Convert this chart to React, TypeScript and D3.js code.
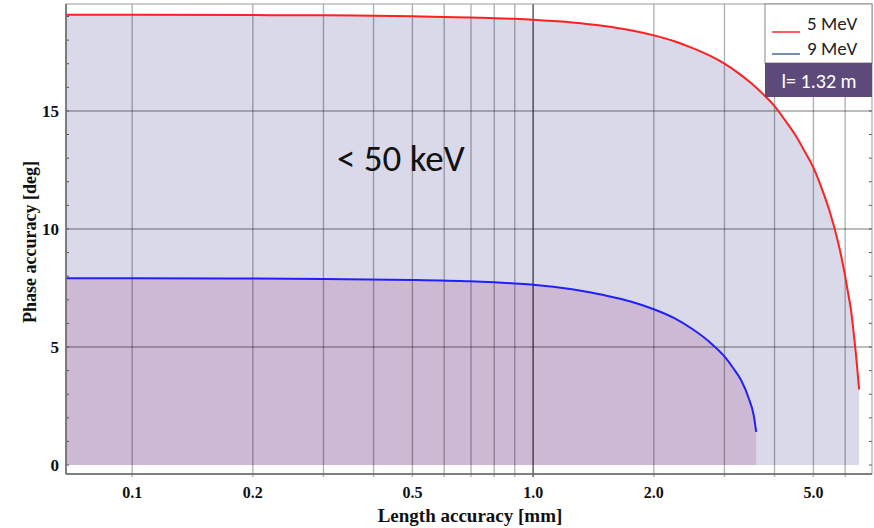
import React, { useEffect, useRef } from 'react';
import * as d3 from 'd3';

// values (x: length accuracy [mm], y: phase accuracy [deg])
const red5MeVx = [0.0684, 0.1, 0.2, 0.3, 0.4, 0.5, 0.6, 0.7, 0.8, 0.9, 1.0, 1.25, 1.5, 1.75, 2.0, 2.25, 2.5, 2.75, 3.0, 3.25, 3.5, 3.75, 4.0, 4.25, 4.5, 4.75, 5.0, 5.25, 5.5, 5.75, 6.0, 6.1, 6.2, 6.3, 6.4, 6.5];
const red5MeVy = [19.07, 19.07, 19.06, 19.05, 19.03, 19.01, 18.98, 18.96, 18.93, 18.9, 18.86, 18.75, 18.6, 18.42, 18.2, 17.95, 17.66, 17.35, 17.0, 16.6, 16.17, 15.7, 15.2, 14.6, 14.0, 13.3, 12.6, 11.7, 10.7, 9.5, 8.0, 7.3, 6.6, 5.6, 4.5, 3.2];
const blue9MeVx = [0.0684, 0.1, 0.2, 0.3, 0.5, 0.7, 0.8, 0.9, 1.0, 1.25, 1.5, 1.75, 2.0, 2.25, 2.5, 2.75, 3.0, 3.15, 3.3, 3.45, 3.55, 3.6];
const blue9MeVy = [7.91, 7.91, 7.9, 7.88, 7.84, 7.78, 7.74, 7.69, 7.64, 7.45, 7.2, 6.93, 6.6, 6.22, 5.75, 5.22, 4.6, 4.12, 3.6, 2.82, 2.1, 1.4];

const xGrid = [0.1, 0.2, 0.3, 0.4, 0.5, 0.6, 0.7, 0.8, 0.9, 1.0, 2, 3, 4, 5, 6];
const xLabels = [0.1, 0.2, 0.5, 1.0, 2.0, 5.0];
const yLabels = [0, 5, 10, 15];
const yMinor = d3.range(0, 20);

const legendItems = [
  { label: '5 MeV', color: '#ff2a2a' },
  { label: '9 MeV', color: '#4a6a96' },
];

const App: React.FC = () => {
  const svgRef = useRef<SVGSVGElement>(null);

  useEffect(() => {
    if (!svgRef.current) return;
    const svg = d3.select(svgRef.current);
    svg.selectAll('*').remove();

    const left = 66, right = 872, top = 4, bottom = 474;
    const x = d3.scaleLog().domain([0.0684, 7.0]).range([left, right]);
    const y = d3.scaleLinear().domain([-0.38, 19.53]).range([bottom, top]);

    const red = red5MeVx.map((v, i) => [v, red5MeVy[i]] as [number, number]);
    const blue = blue9MeVx.map((v, i) => [v, blue9MeVy[i]] as [number, number]);

    const area = d3.area<[number, number]>()
      .x(d => x(d[0]))
      .y0(y(0))
      .y1(d => y(d[1]))
      .curve(d3.curveMonotoneX);
    const line = d3.line<[number, number]>()
      .x(d => x(d[0]))
      .y(d => y(d[1]))
      .curve(d3.curveMonotoneX);

    svg.append('rect').attr('x', left).attr('y', top)
      .attr('width', right - left).attr('height', bottom - top).attr('fill', '#fff');

    // filled regions
    svg.append('path').datum(red).attr('d', area).attr('fill', '#d9d9ea');
    svg.append('path').datum(blue).attr('d', area).attr('fill', '#cdb9d4');

    // grid
    const grid = svg.append('g');
    xGrid.forEach(v => {
      grid.append('line')
        .attr('x1', x(v)).attr('x2', x(v)).attr('y1', top).attr('y2', bottom + 3)
        .attr('stroke', '#000')
        .attr('stroke-opacity', v === 1 ? 0.6 : 0.3)
        .attr('stroke-width', v === 1 ? 1.6 : 1.4);
    });
    yLabels.filter(v => v > 0).forEach(v => {
      grid.append('line')
        .attr('x1', left).attr('x2', right).attr('y1', y(v)).attr('y2', y(v))
        .attr('stroke', '#000').attr('stroke-opacity', 0.35).attr('stroke-width', 1.4);
    });

    // minor ticks on left and right
    yMinor.forEach(v => {
      svg.append('line').attr('x1', left).attr('x2', left + 3)
        .attr('y1', y(v)).attr('y2', y(v)).attr('stroke', '#555').attr('stroke-width', 1);
      svg.append('line').attr('x1', right - 3).attr('x2', right)
        .attr('y1', y(v)).attr('y2', y(v)).attr('stroke', '#555').attr('stroke-width', 1);
    });

    // curves
    svg.append('path').datum(red).attr('d', line)
      .attr('fill', 'none').attr('stroke', '#ff2020').attr('stroke-width', 2);
    svg.append('path').datum(blue).attr('d', line)
      .attr('fill', 'none').attr('stroke', '#2020ff').attr('stroke-width', 2);

    // frame
    svg.append('rect').attr('x', left).attr('y', top)
      .attr('width', right - left).attr('height', bottom - top)
      .attr('fill', 'none').attr('stroke', '#999').attr('stroke-width', 1);
    svg.append('line').attr('x1', left).attr('x2', left).attr('y1', top).attr('y2', bottom)
      .attr('stroke', '#666').attr('stroke-width', 1.5);
    svg.append('line').attr('x1', left).attr('x2', right).attr('y1', bottom).attr('y2', bottom)
      .attr('stroke', '#666').attr('stroke-width', 1.5);

    // axis labels
    const serif = "'Liberation Serif', 'Times New Roman', serif";
    xLabels.forEach(v => {
      svg.append('text').attr('x', x(v)).attr('y', 498)
        .attr('text-anchor', 'middle').attr('font-family', serif)
        .attr('font-weight', 'bold').attr('font-size', 16).attr('fill', '#111')
        .text(v.toFixed(1));
    });
    yLabels.forEach(v => {
      svg.append('text').attr('x', 59).attr('y', y(v) + 6)
        .attr('text-anchor', 'end').attr('font-family', serif)
        .attr('font-weight', 'bold').attr('font-size', 17).attr('fill', '#111')
        .text(String(v));
    });
    svg.append('text').attr('x', 470).attr('y', 522)
      .attr('text-anchor', 'middle').attr('font-family', serif)
      .attr('font-weight', 'bold').attr('font-size', 19).attr('fill', '#111')
      .text('Length accuracy [mm]');
    svg.append('text')
      .attr('transform', `translate(36,${242}) rotate(-90)`)
      .attr('text-anchor', 'middle').attr('font-family', serif)
      .attr('font-weight', 'bold').attr('font-size', 18).attr('fill', '#111')
      .text('Phase accuracy [deg]');

    // annotation
    const sans = "Carlito, Lato, 'Open Sans', sans-serif";
    svg.append('text').attr('x', 337).attr('y', 171)
      .attr('font-family', sans).attr('font-size', 37).attr('fill', '#111')
      .text('< 50 keV');

    // legend
    const lg = svg.append('g');
    lg.append('rect').attr('x', 765).attr('y', top).attr('width', right - 765).attr('height', 59)
      .attr('fill', '#fff').attr('stroke', '#888').attr('stroke-width', 1);
    legendItems.forEach((item, i) => {
      const cy = 32 + i * 22;
      lg.append('line').attr('x1', 772).attr('x2', 800).attr('y1', cy).attr('y2', cy)
        .attr('stroke', item.color).attr('stroke-width', 1.5);
      lg.append('text').attr('x', 807).attr('y', 30 + i * 25)
        .attr('font-family', sans).attr('font-size', 19).attr('fill', '#222')
        .text(item.label);
    });
    lg.append('rect').attr('x', 765).attr('y', 63).attr('width', right - 765).attr('height', 34)
      .attr('fill', '#5d4a7b');
    lg.append('text').attr('x', 819).attr('y', 88)
      .attr('text-anchor', 'middle').attr('font-family', sans).attr('font-size', 20)
      .attr('fill', '#fff').text('l= 1.32 m');
  }, []);

  return (
    <div style={{ position: 'absolute', left: 0, top: 0 }}>
      <svg ref={svgRef} width={874} height={528} style={{ display: 'block', background: '#fff' }}></svg>
    </div>
  );
};

export default App;
